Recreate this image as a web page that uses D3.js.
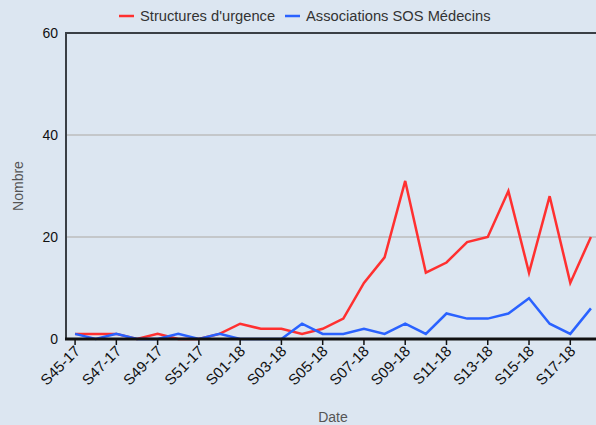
<!DOCTYPE html>
<html>
<head>
<meta charset="utf-8">
<script src="https://cdn.jsdelivr.net/npm/d3@7"></script>
<style>
  body { margin: 0; background: #dce6f1; }
  svg { display: block; font-family: Arial, "Liberation Sans", sans-serif; }
</style>
</head>
<body>
<div id="chart"></div>
<script>
// weeks S45-17 .. S18-18
const weeks = [
  "S45-17", "S46-17", "S47-17", "S48-17", "S49-17", "S50-17", "S51-17", "S52-17",
  "S01-18", "S02-18", "S03-18", "S04-18", "S05-18", "S06-18", "S07-18", "S08-18",
  "S09-18", "S10-18", "S11-18", "S12-18", "S13-18", "S14-18", "S15-18", "S16-18",
  "S17-18", "S18-18"
];
const urgences = [1, 1, 1, 0, 1, 0, 0, 1, 3, 2, 2, 1, 2, 4, 11, 16, 31, 13, 15, 19, 20, 29, 13, 28, 11, 20];
const sos = [1, 0, 1, 0, 0, 1, 0, 1, 0, 0, 0, 3, 1, 1, 2, 1, 3, 1, 5, 4, 4, 5, 8, 3, 1, 6];
const yTicks = [0, 20, 40, 60];
const seriesNames = ["Structures d'urgence", "Associations SOS Médecins"];
const colors = ["#ff3030", "#2a62ff"];

const width = 596, height = 425;
const m = { left: 66, right: 600, top: 33, bottom: 339 };

const svg = d3.select("#chart").append("svg")
  .attr("width", width)
  .attr("height", height);

svg.append("rect").attr("width", width).attr("height", height).attr("fill", "#dce6f1");

const x = d3.scalePoint().domain(weeks).range([m.left, m.right]).padding(0.44);
const y = d3.scaleLinear().domain([0, 60]).range([m.bottom, m.top]);

// grid
svg.append("g")
  .selectAll("line")
  .data(yTicks.filter(d => d > 0 && d < 60))
  .join("line")
  .attr("x1", m.left).attr("x2", m.right)
  .attr("y1", d => y(d)).attr("y2", d => y(d))
  .attr("stroke", "#bdbdbd")
  .attr("stroke-width", 1.5);

// lines
const line = d3.line().x((d, i) => x(weeks[i])).y(d => y(d));
[urgences, sos].forEach((s, k) => {
  svg.append("path")
    .datum(s)
    .attr("d", line)
    .attr("fill", "none")
    .attr("stroke", colors[k])
    .attr("stroke-width", 2.5)
    .attr("stroke-linejoin", "miter");
});

// frame
svg.append("line")
  .attr("x1", m.left).attr("x2", m.right).attr("y1", m.top).attr("y2", m.top)
  .attr("stroke", "#3a3f45").attr("stroke-width", 2);
svg.append("line")
  .attr("x1", m.left).attr("x2", m.left).attr("y1", m.top - 1).attr("y2", m.bottom)
  .attr("stroke", "#3a3f45").attr("stroke-width", 2);
svg.append("line")
  .attr("x1", m.left - 1).attr("x2", m.right).attr("y1", m.bottom).attr("y2", m.bottom)
  .attr("stroke", "#111").attr("stroke-width", 3);

// y labels
svg.append("g")
  .selectAll("text")
  .data(yTicks)
  .join("text")
  .attr("x", m.left - 8)
  .attr("y", d => y(d) + 5)
  .attr("text-anchor", "end")
  .attr("font-size", 14)
  .attr("fill", "#111")
  .text(d => d);

// x ticks + labels (every other week)
const shown = weeks.filter((d, i) => i % 2 === 0);
svg.append("g")
  .selectAll("line")
  .data(shown)
  .join("line")
  .attr("x1", d => x(d)).attr("x2", d => x(d))
  .attr("y1", m.bottom).attr("y2", m.bottom + 6)
  .attr("stroke", "#111").attr("stroke-width", 1.5);

svg.append("g")
  .selectAll("text")
  .data(shown)
  .join("text")
  .attr("transform", d => `translate(${x(d) + 6},${m.bottom + 13}) rotate(-45)`)
  .attr("text-anchor", "end")
  .attr("font-size", 15)
  .attr("fill", "#111")
  .text(d => d);

// axis titles
svg.append("text")
  .attr("x", 333).attr("y", 422)
  .attr("text-anchor", "middle")
  .attr("font-size", 14)
  .attr("fill", "#555")
  .text("Date");
svg.append("text")
  .attr("transform", "translate(23,186) rotate(-90)")
  .attr("text-anchor", "middle")
  .attr("font-size", 14)
  .attr("fill", "#555")
  .text("Nombre");

// legend
const legendX = [119, 285];
seriesNames.forEach((n, k) => {
  svg.append("line")
    .attr("x1", legendX[k]).attr("x2", legendX[k] + 15)
    .attr("y1", 16).attr("y2", 16)
    .attr("stroke", colors[k]).attr("stroke-width", 2.5);
  svg.append("text")
    .attr("x", legendX[k] + 21).attr("y", 21)
    .attr("font-size", 14.7)
    .attr("fill", "#333")
    .text(n);
});
</script>
</body>
</html>
